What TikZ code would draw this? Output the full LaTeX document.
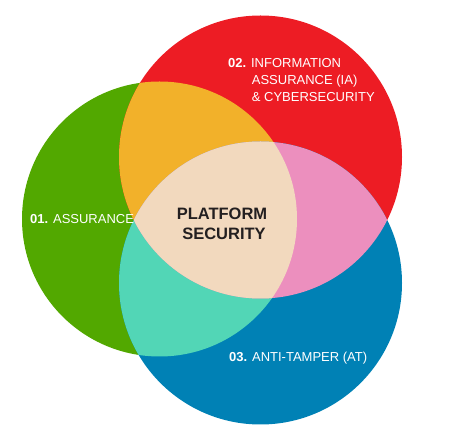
\documentclass[tikz,border=0pt]{standalone}
\usepackage{fontspec}
\setmainfont{Liberation Sans}
\definecolor{cgreen}{HTML}{52A800}
\definecolor{cred}{HTML}{ED1C24}
\definecolor{cblue}{HTML}{0081B5}
\definecolor{corange}{HTML}{F2B12A}
\definecolor{cpink}{HTML}{EC8FBE}
\definecolor{cteal}{HTML}{52D6B6}
\definecolor{cbeige}{HTML}{F2D9BE}
\definecolor{ctext}{HTML}{231F20}
\tikzset{
  lbl/.style={anchor=base west, inner sep=0pt, text=white, font=\fontsize{13}{15}\selectfont},
  core/.style={anchor=base, inner sep=0pt, text=ctext, font=\fontsize{16.5}{19}\selectfont\bfseries},
}
\begin{document}
\begin{tikzpicture}[x=1pt,y=1pt]
\useasboundingbox (0,0) rectangle (450,439);
\def\Gc{(159.5,220) circle[radius=137.5]}
\def\Rc{(260.5,282) circle[radius=141.5]}
\def\Bc{(260.5,156) circle[radius=141.5]}
\fill[cgreen] \Gc;
\fill[cred] \Rc;
\fill[cblue] \Bc;
\begin{scope}
  \clip \Gc;
  \fill[corange] \Rc;
  \fill[cteal] \Bc;
\end{scope}
\begin{scope}
  \clip \Rc;
  \fill[cpink] \Bc;
\end{scope}
\begin{scope}
  \clip \Gc;
  \clip \Rc;
  \fill[cbeige] \Bc;
\end{scope}
\node[lbl] (t2a) at (228,371) {\textbf{02.} INFORMATION};
\node[lbl] (t2b) at (251.7,354) {ASSURANCE (IA)};
\node[lbl] (t2c) at (251.7,337.5) {\& CYBERSECURITY};
\node[lbl] (t1) at (30,215.7) {\textbf{01.} ASSURANCE};
\node[lbl] (t3) at (229,77.3) {\textbf{03.} ANTI-TAMPER (AT)};
\node[core] (c1) at (222,219) {PLATFORM};
\node[core] (c2) at (224,199) {SECURITY};
\end{tikzpicture}
\end{document}
